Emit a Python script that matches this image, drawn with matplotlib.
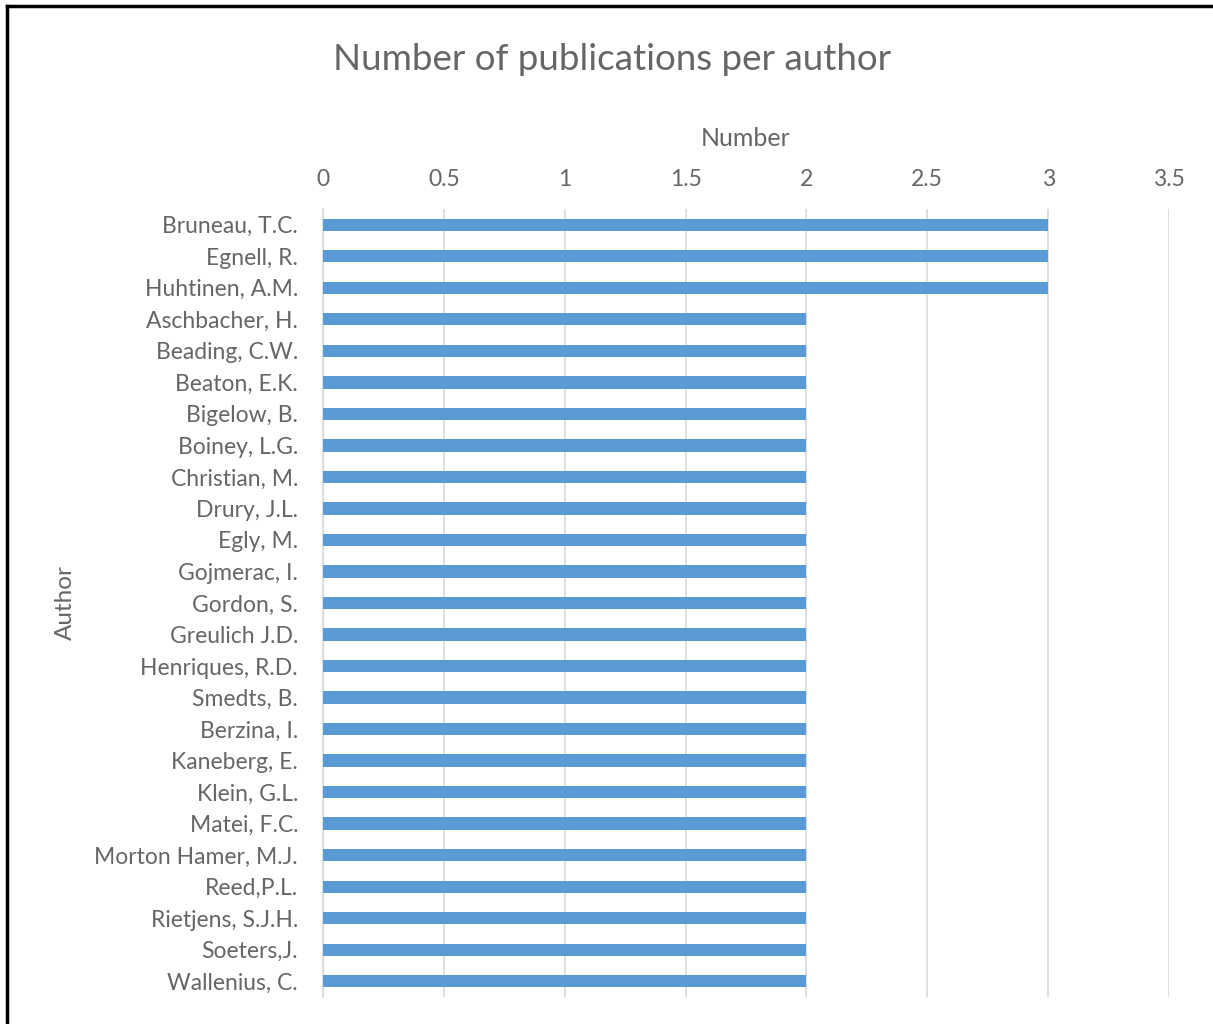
import matplotlib
matplotlib.use("Agg")
import matplotlib.pyplot as plt

authors = [
    "Bruneau, T.C.", "Egnell, R.", "Huhtinen, A.M.", "Aschbacher, H.",
    "Beading, C.W.", "Beaton, E.K.", "Bigelow, B.", "Boiney, L.G.",
    "Christian, M.", "Drury, J.L.", "Egly, M.", "Gojmerac, I.",
    "Gordon, S.", "Greulich J.D.", "Henriques, R.D.", "Smedts, B.",
    "Berzina, I.", "Kaneberg, E.", "Klein, G.L.", "Matei, F.C.",
    "Morton Hamer, M.J.", "Reed,P.L.", "Rietjens, S.J.H.", "Soeters,J.",
    "Wallenius, C.",
]
publications = [3, 3, 3, 2, 2, 2, 2, 2, 2, 2, 2, 2, 2, 2, 2, 2, 2, 2, 2, 2, 2, 2, 2, 2, 2]
x_ticks = [0, 0.5, 1, 1.5, 2, 2.5, 3, 3.5]
x_tick_labels = ["0", "0.5", "1", "1.5", "2", "2.5", "3", "3.5"]

plt.rcParams["font.family"] = ["Lato", "DejaVu Sans"]
text_color = "#666666"
grid_color = "#d9d9d9"
bar_color = "#5b9bd5"

fig = plt.figure(figsize=(12.13, 10.24), dpi=100)

# outer frame (left and top edges visible)
fig.add_artist(plt.Line2D([0.0057, 0.0057], [0, 0.9945], transform=fig.transFigure,
                          color="black", linewidth=2.5))
fig.add_artist(plt.Line2D([0.0057, 1.0], [0.9945, 0.9945], transform=fig.transFigure,
                          color="black", linewidth=2.5))

ax = fig.add_axes([323 / 1213, 1 - 997 / 1024, (1169 - 323) / 1213, (997 - 209) / 1024])

y_pos = list(range(len(authors)))
ax.barh(y_pos, publications, height=0.39, color=bar_color, zorder=3)
ax.set_ylim(len(authors) - 0.5, -0.5)
ax.set_xlim(0, 3.5)

ax.xaxis.tick_top()
ax.xaxis.set_label_position("top")
ax.set_xticks(x_ticks)
ax.set_xticklabels(x_tick_labels)
ax.set_yticks(y_pos)
ax.set_yticklabels(authors)
ax.tick_params(axis="both", length=0, colors=text_color, labelsize=16.5)
ax.tick_params(axis="x", pad=14)
ax.tick_params(axis="y", pad=18)

ax.grid(axis="x", color=grid_color, linewidth=1.2, zorder=0)
for s in ["top", "right", "bottom"]:
    ax.spines[s].set_visible(False)
ax.spines["left"].set_color(grid_color)
ax.spines["left"].set_linewidth(1.2)

ax.set_xlabel("Number", color=text_color, fontsize=18, labelpad=16)
fig.text(65 / 1213, 1 - 603 / 1024, "Author", rotation=90, color=text_color,
         fontsize=17.5, ha="center", va="center")
fig.text(612 / 1213, 1 - 60 / 1024, "Number of publications per author",
         color=text_color, fontsize=26.5, ha="center", va="center")

fig.savefig("out.png", dpi=100)
